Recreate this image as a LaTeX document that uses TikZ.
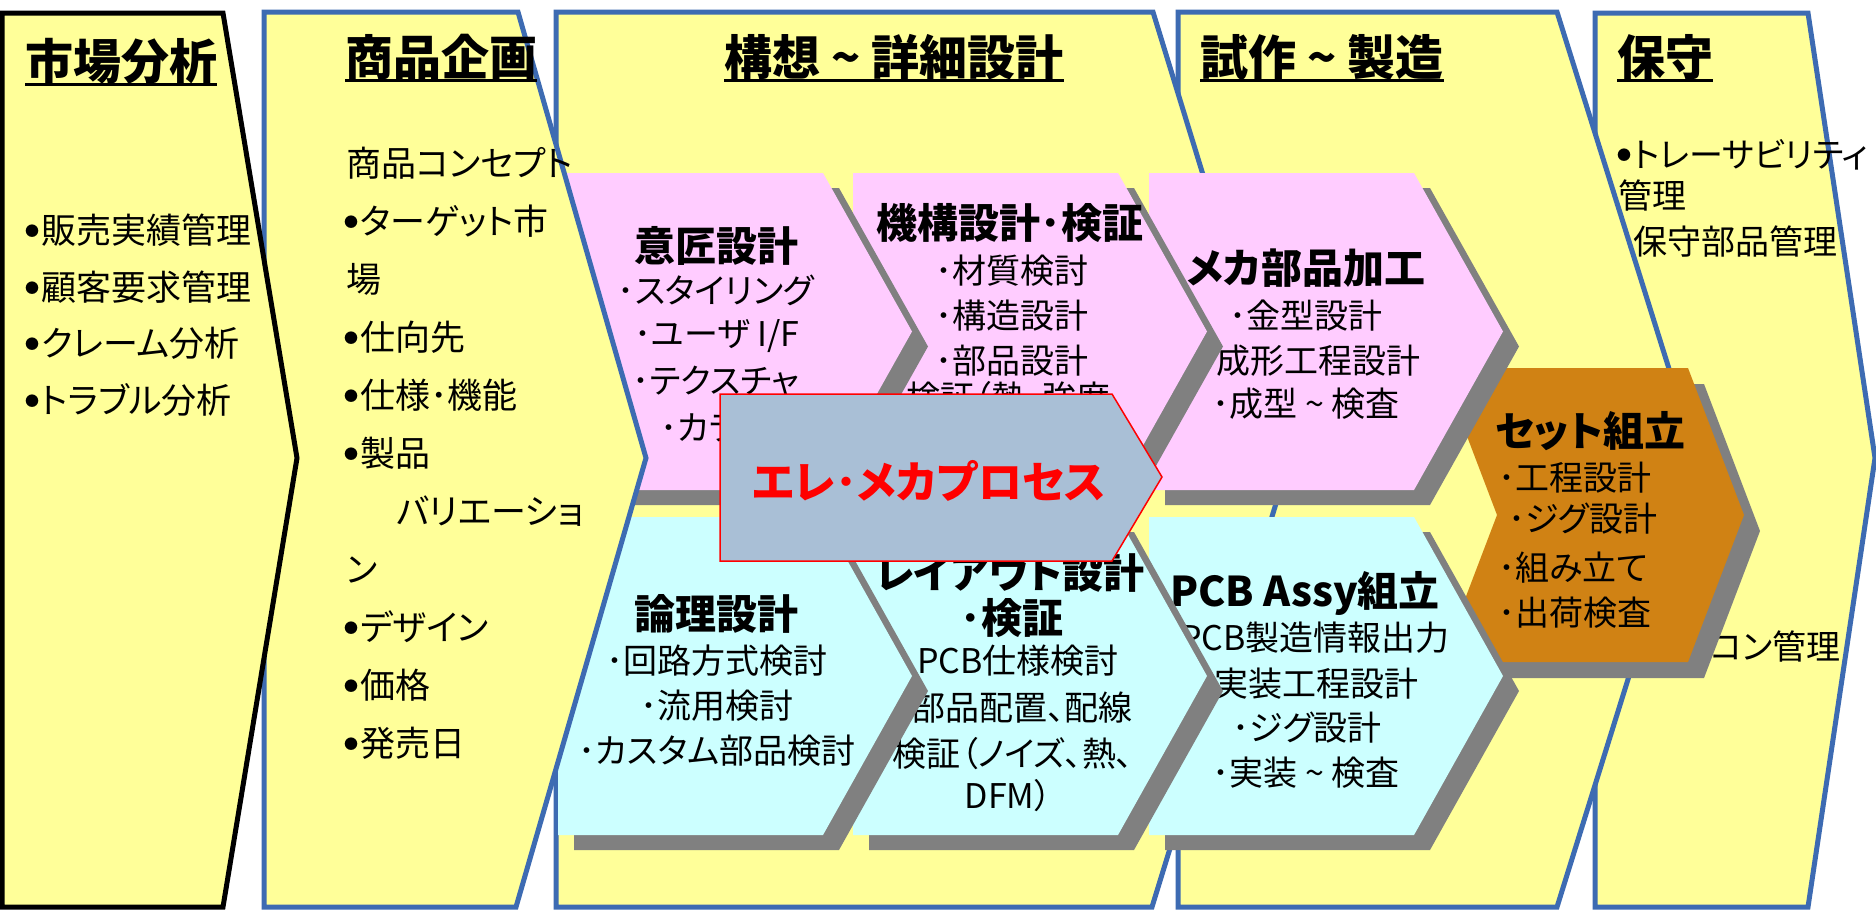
\documentclass[tikz,border=0pt]{standalone}
\usepackage{fontspec}
\setmainfont{Noto Sans CJK JP}[RawFeature=+palt]
\definecolor{secyellow}{HTML}{FFFF99}
\definecolor{secblue}{HTML}{3D6BB2}
\definecolor{pinkc}{HTML}{FFCCFF}
\definecolor{cyanc}{HTML}{CCFFFF}
\definecolor{shadowgray}{HTML}{808080}
\definecolor{orangec}{HTML}{D08214}
\definecolor{procgray}{HTML}{A9BFD6}
\tikzset{
  sec/.style={draw=secblue, line width=5pt, fill=secyellow},
  blk/.style={draw=black, line width=5pt, fill=secyellow},
  shad/.style={fill=shadowgray, draw=none},
  ttl/.style={font=\fontsize{48}{52}\selectfont\bfseries, inner sep=0pt, anchor=base west, text height=41pt, text depth=4pt},
  uline/.style={line width=3pt},
  bod/.style={font=\fontsize{35}{40}\selectfont, inner sep=0pt, anchor=base west, text height=30pt, text depth=4pt},
  bods/.style={font=\fontsize{34}{40}\selectfont, inner sep=0pt, anchor=base west, text height=29pt, text depth=3pt},
  cen/.style={font=\fontsize{34}{40}\selectfont, inner sep=0pt, anchor=base, text height=29pt, text depth=3pt},
  cenb/.style={font=\fontsize{41}{44}\selectfont\bfseries, inner sep=0pt, anchor=base, text height=35pt, text depth=3pt},
  lft/.style={font=\fontsize{34}{40}\selectfont, inner sep=0pt, anchor=base west, text height=29pt, text depth=3pt},
  lftb/.style={font=\fontsize{41}{44}\selectfont\bfseries, inner sep=0pt, anchor=base west, text height=35pt, text depth=3pt},
  procbox/.style={fill=procgray, draw=red, line width=1.5pt},
  proctext/.style={font=\fontsize{44}{48}\selectfont\bfseries, text=red, inner sep=0pt, anchor=base, text height=38pt, text depth=4pt}
}
% bullet: a round dot at mid height of the text
\newcommand\bul{\makebox[16pt][l]{\raisebox{7pt}{\fontsize{14}{14}\selectfont ●}}}
% #1 fill colour, #2 left x, #3 top y, #4 bottom y
\newcommand\homeplate[4]{%
  \fill[shad, shift={(16,15)}] (#2,#3) -- ++(265,0) -- ++(89,{(#4-#3)/2}) -- ++(-89,{(#4-#3)/2}) -- ++(-265,0) -- cycle;
  \fill[#1] (#2,#3) -- ++(265,0) -- ++(89,{(#4-#3)/2}) -- ++(-89,{(#4-#3)/2}) -- ++(-265,0) -- cycle;}
\newcommand\uln[1]{\draw[uline] ([yshift=-5pt]#1.base west) -- ([yshift=-5pt]#1.base east);}
\begin{document}
\begin{tikzpicture}[x=1pt,y=-1pt]
\fill[white] (0,0) rectangle (1876,910);
\useasboundingbox (0,0) rectangle (1876,910);

% ---- Section 5: 保守
\draw[sec] (1595,13) -- (1808,13) -- (1875,458) -- (1808,907) -- (1595,907) -- cycle;
\node[ttl] (t5) at (1617,75) {保守};
\uln{t5}
\node[bods] (s5a) at (1617,167) {\bul トレーサビリティ};
\node[bods] (s5b) at (1618,208) {管理};
\node[bods] (s5c) at (1617,254) {\bul 保守部品管理};
\node[bods] (s5d) at (1710,659) {コン管理};

% ---- Section 4: 試作 ~ 製造
\draw[sec] (1178,12) -- (1557,12) -- (1697,458) -- (1557,907) -- (1178,907) -- cycle;
\node[ttl] (t4) at (1200,75) {試作 \textasciitilde\ 製造};
\uln{t4}

% ---- Section 3: 構想 ~ 詳細設計
\draw[sec] (556,12) -- (1153,12) -- (1290,458) -- (1152,907) -- (556,907) -- cycle;
\node[ttl] (t3) at (724,75) {構想 \textasciitilde\ 詳細設計};
\uln{t3}

% ---- セット組立 (orange chevron)
\fill[shad, shift={(16,16)}] (1441,368) -- (1688,368) -- (1744,515) -- (1688,662) -- (1441,662) -- (1497,515) -- cycle;
\fill[orangec] (1441,368) -- (1688,368) -- (1744,515) -- (1688,662) -- (1441,662) -- (1497,515) -- cycle;
\node[lftb] (o0) at (1495,446) {セット組立};
\node[lft] (o1) at (1498,490) {･工程設計};
\node[lft] (o2) at (1508,531) {･ジグ設計};
\node[lft] (o3) at (1498,580) {･組み立て};
\node[lft] (o4) at (1498,625) {･出荷検査};

% ---- pink row (right to left)
\homeplate{pinkc}{1149}{173}{490}
\node[cenb] (p3t) at (1306,283) {メカ部品加工};
\node[cen] (p3a) at (1306,328) {･金型設計};
\node[cen] (p3b) at (1310,373) {･成形工程設計};
\node[cen] (p3c) at (1306,416) {･成型 \textasciitilde\ 検査};

\homeplate{pinkc}{853}{173}{490}
\node[cenb] (p2t) at (1010,238) {機構設計･検証};
\node[cen] (p2a) at (1012,283) {･材質検討};
\node[cen] (p2b) at (1012,328) {･構造設計};
\node[cen] (p2c) at (1012,373) {･部品設計};
\node[cen] (p2d) at (1017,410) {検証（熱、強度、};

\homeplate{pinkc}{558}{173}{490}
\node[cenb] (p1t) at (716,261) {意匠設計};
\node[cen] (p1a) at (716,303) {･スタイリング};
\node[cen] (p1b) at (717,346) {･ユーザ I/F};
\node[cen] (p1c) at (716,393) {･テクスチャ};
\node[cen] (p1d) at (716,440) {･カラー};

% ---- cyan row (right to left)
\homeplate{cyanc}{1149}{517}{835}
\node[cenb] (c3t) at (1305,606) {PCB Assy組立};
\node[cen] (c3a) at (1315,650) {PCB製造情報出力};
\node[cen] (c3b) at (1308,696) {･実装工程設計};
\node[cen] (c3c) at (1307,740) {･ジグ設計};
\node[cen] (c3d) at (1306,785) {･実装 \textasciitilde\ 検査};

\homeplate{cyanc}{853}{517}{835}
\node[cenb] (c2t) at (1010,588) {レイアウト設計};
\node[cenb] (c2u) at (1012,633) {･検証};
\node[cen] (c2a) at (1018,673) {PCB仕様検討};
\node[cen] (c2b) at (1022,720) {部品配置、配線};
\node[cen] (c2c) at (1013,766) {検証（ノイズ、熱、};
\node[cen] (c2d) at (1008,808) {DFM）};

\homeplate{cyanc}{558}{517}{835}
\node[cenb] (c1t) at (716,629) {論理設計};
\node[cen] (c1a) at (717,673) {･回路方式検討};
\node[cen] (c1b) at (717,718) {･流用検討};
\node[cen] (c1c) at (717,763) {･カスタム部品検討};

% ---- エレ・メカプロセス
\draw[procbox] (720,394) -- (1112,394) -- (1162,477) -- (1112,561) -- (720,561) -- cycle;
\node[proctext] (pr) at (929,498) {エレ･メカプロセス};

% ---- Section 2: 商品企画
\draw[sec] (264,12) -- (518,12) -- (646,458) -- (516,907) -- (264,907) -- cycle;
\node[ttl] (t2) at (345,75) {商品企画};
\uln{t2}
\node[bod] (s2a) at (346,176) {商品コンセプト};
\node[bod] (s2b) at (344,234) {\bul ターゲット市};
\node[bod] (s2c) at (346,292) {場};
\node[bod] (s2d) at (344,350) {\bul 仕向先};
\node[bod] (s2e) at (344,408) {\bul 仕様･機能};
\node[bod] (s2f) at (344,466) {\bul 製品};
\node[bod] (s2g) at (396,524) {バリエーショ};
\node[bod] (s2h) at (346,582) {ン};
\node[bod] (s2i) at (344,640) {\bul デザイン};
\node[bod] (s2j) at (344,698) {\bul 価格};
\node[bod] (s2k) at (344,756) {\bul 発売日};

% ---- Section 1: 市場分析
\draw[blk] (2,13) -- (223,13) -- (297,458) -- (223,907) -- (2,907) -- cycle;
\node[ttl] (t1) at (25,79) {市場分析};
\uln{t1}
\node[bod] (s1a) at (25,243) {\bul 販売実績管理};
\node[bod] (s1b) at (25,300) {\bul 顧客要求管理};
\node[bod] (s1c) at (25,356) {\bul クレーム分析};
\node[bod] (s1d) at (25,413) {\bul トラブル分析};
\end{tikzpicture}
\end{document}
